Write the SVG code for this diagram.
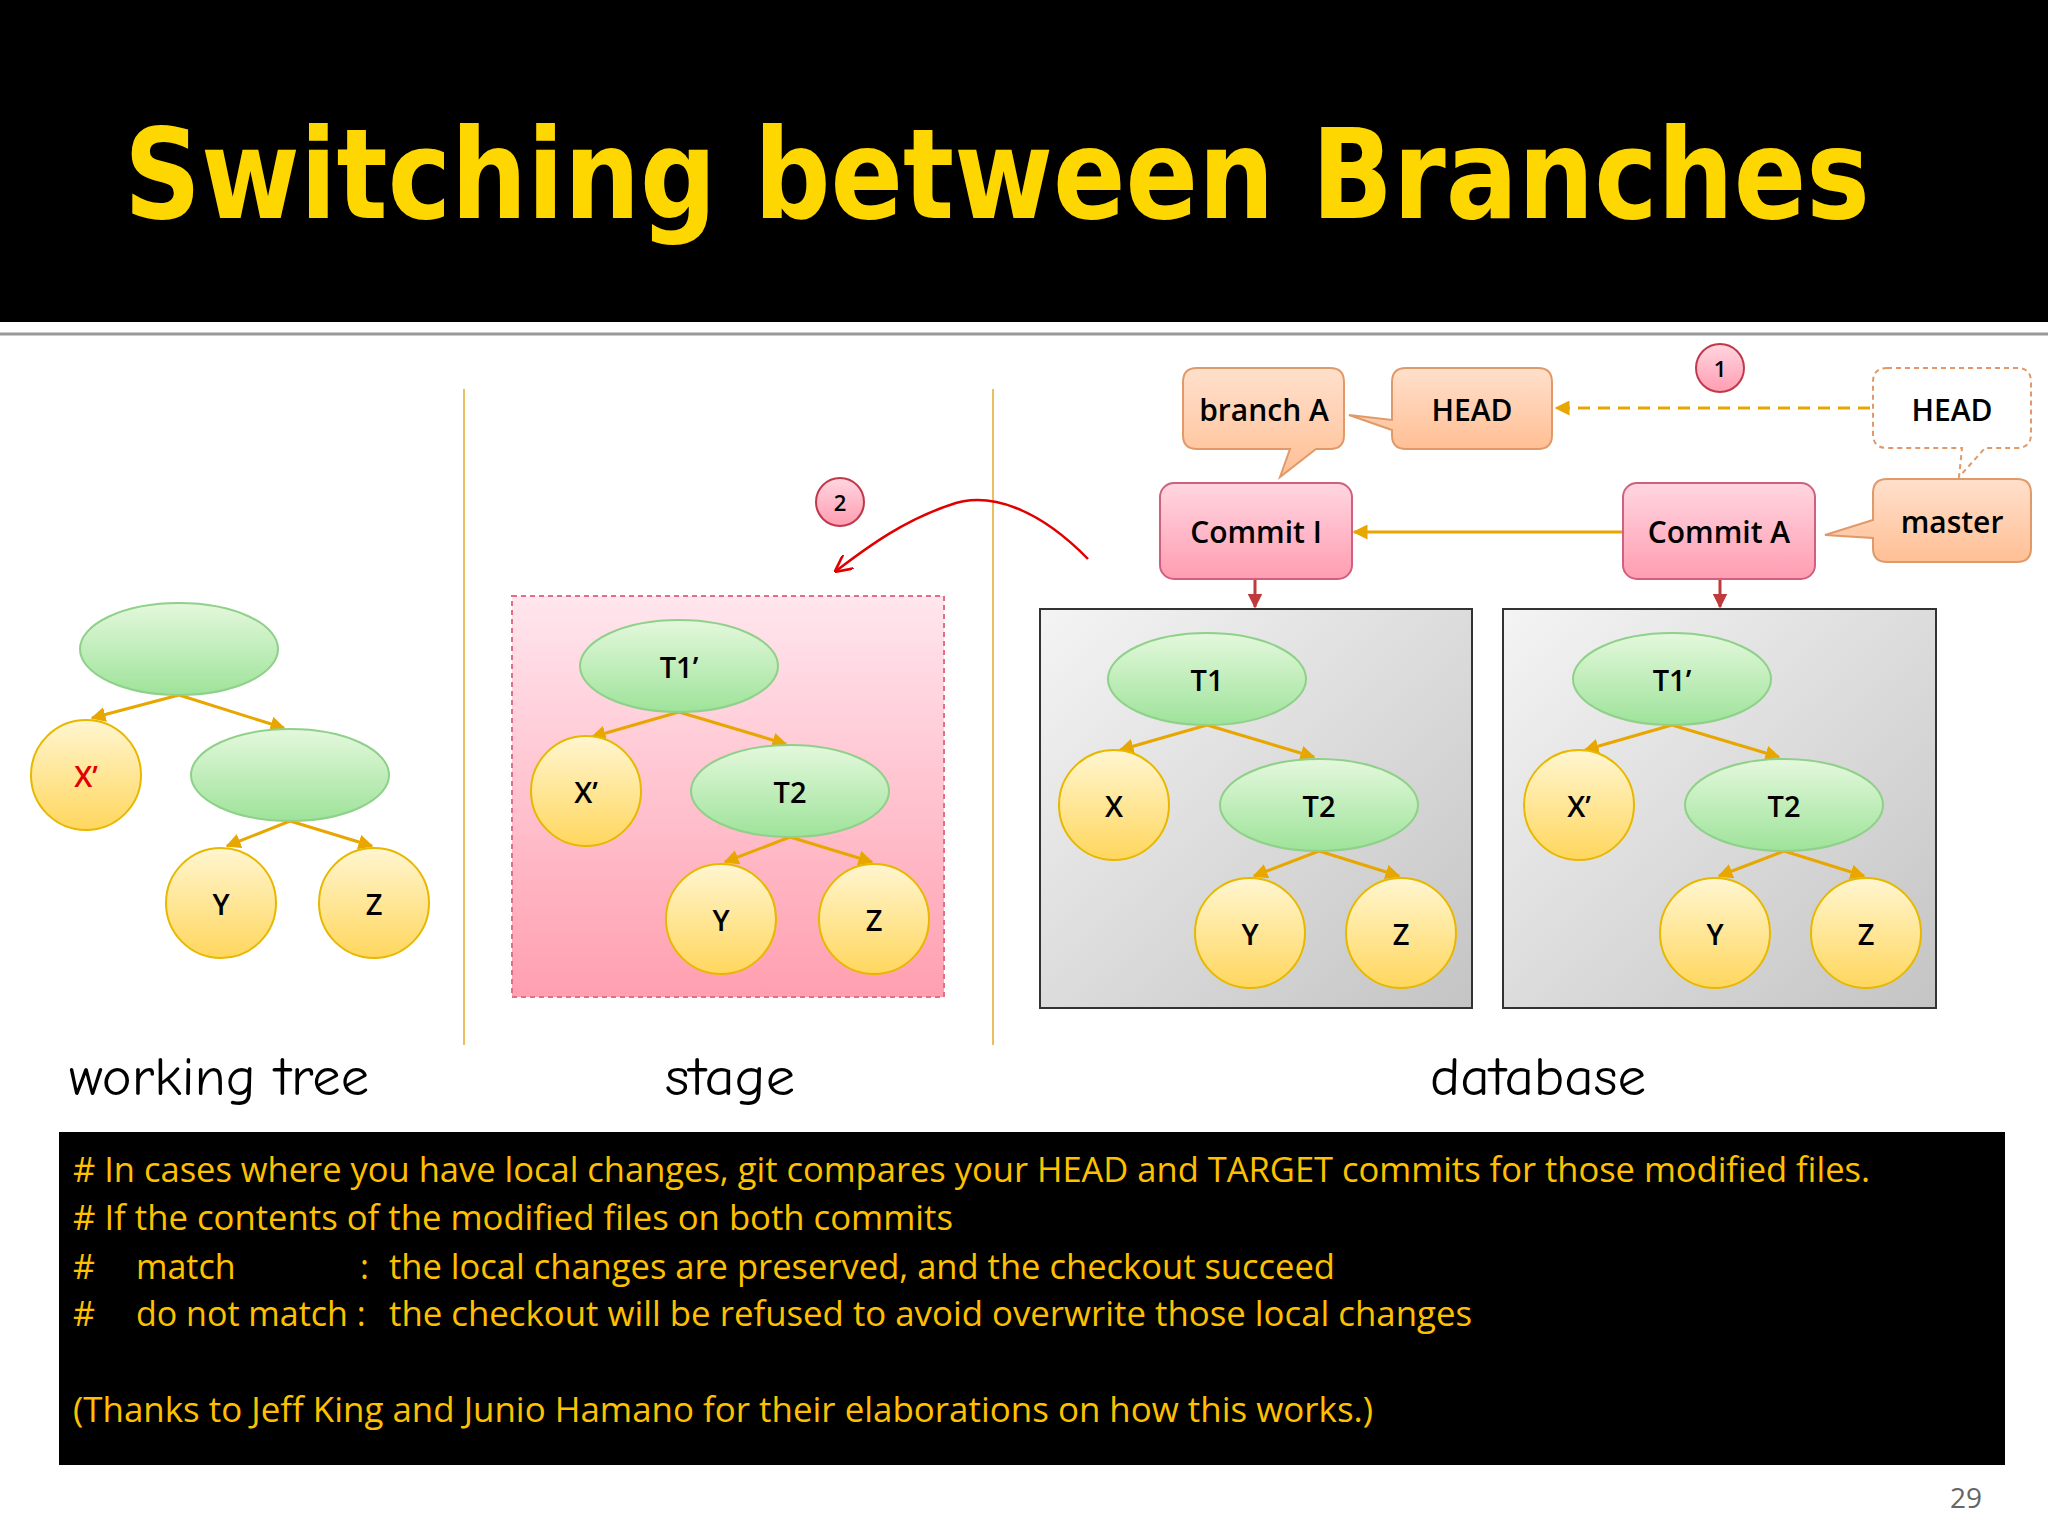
<svg xmlns="http://www.w3.org/2000/svg" width="2048" height="1536" viewBox="0 0 2048 1536">
<defs>
<linearGradient id="gE" x1="0" y1="0" x2="0" y2="1"><stop offset="0" stop-color="#e4f8dc"/><stop offset="1" stop-color="#9ee39a"/></linearGradient>
<linearGradient id="gC" x1="0" y1="0" x2="0" y2="1"><stop offset="0" stop-color="#fff6d0"/><stop offset="1" stop-color="#ffd75e"/></linearGradient>
<linearGradient id="gP" x1="0" y1="0" x2="0" y2="1"><stop offset="0" stop-color="#ffe6ee"/><stop offset="1" stop-color="#ff9fb0"/></linearGradient>
<linearGradient id="gR" x1="0" y1="0" x2="0" y2="1"><stop offset="0" stop-color="#ffd6e0"/><stop offset="1" stop-color="#ff9db2"/></linearGradient>
<linearGradient id="gO" x1="0" y1="0" x2="0" y2="1"><stop offset="0" stop-color="#ffe0cc"/><stop offset="1" stop-color="#ffbf94"/></linearGradient>
<linearGradient id="gG" x1="0" y1="0" x2="1" y2="1"><stop offset="0" stop-color="#f4f4f4"/><stop offset="1" stop-color="#c4c4c4"/></linearGradient>
<marker id="aO" viewBox="0 0 10 10" refX="9" refY="5" markerWidth="5" markerHeight="5" orient="auto"><path d="M0,0L10,5L0,10z" fill="#e8a600"/></marker>
<marker id="aR" viewBox="0 0 10 10" refX="9" refY="5" markerWidth="5" markerHeight="5" orient="auto"><path d="M0,0L10,5L0,10z" fill="#c0393b"/></marker>
<marker id="aRed" viewBox="0 0 10 10" refX="9" refY="5" markerWidth="7" markerHeight="7" orient="auto"><path d="M0,0L10,5L0,10" fill="none" stroke="#e00000" stroke-width="1.5"/></marker>
</defs>
<style>
.e{fill:url(#gE);stroke:#8fd08a;stroke-width:2}
.c{fill:url(#gC);stroke:#e8b800;stroke-width:2}
.t{font-family:"Open Sans","DejaVu Sans",sans-serif;font-size:29px;font-weight:600;text-anchor:middle;dominant-baseline:central;fill:#000}
.ed{stroke:#e8a600;stroke-width:3;fill:none;marker-end:url(#aO)}
.lbl{font-family:"Comic Neue","DejaVu Sans",sans-serif;font-size:54px;fill:#000}
.bt{font-family:"Open Sans","Liberation Sans",sans-serif;font-size:34px;fill:#ffc000}
.box{font-family:"Open Sans","DejaVu Sans",sans-serif;font-size:30px;font-weight:600;text-anchor:middle;dominant-baseline:central;fill:#000}
.num{fill:url(#gR);stroke:#c0394b;stroke-width:2}
</style>
<rect width="2048" height="1536" fill="#fff"/>
<rect width="2048" height="322" fill="#000"/>
<line x1="0" y1="334" x2="2048" y2="334" stroke="#999" stroke-width="3"/>
<text x="124" y="218" font-family="DejaVu Sans,sans-serif" font-weight="bold" font-size="124" fill="#ffd700" textLength="1746" lengthAdjust="spacingAndGlyphs">Switching between Branches</text>
<line x1="464" y1="389" x2="464" y2="1045" stroke="#e8c060" stroke-width="2"/>
<line x1="993" y1="389" x2="993" y2="1045" stroke="#e8c060" stroke-width="2"/>

<g id="working-tree">
<path class="ed" d="M179,695 L92,718"/><path class="ed" d="M179,695 L284,728"/>
<path class="ed" d="M290,821 L227,846"/><path class="ed" d="M290,821 L372,846"/>
<ellipse class="e" cx="179" cy="649" rx="99" ry="46"/>
<circle class="c" cx="86" cy="775" r="55"/><text class="t" x="86" y="775" style="fill:#e00000">X’</text>
<ellipse class="e" cx="290" cy="775" rx="99" ry="46"/>
<circle class="c" cx="221" cy="903" r="55"/><text class="t" x="221" y="903">Y</text>
<circle class="c" cx="374" cy="903" r="55"/><text class="t" x="374" y="903">Z</text>
</g>

<g id="stage">
<rect x="512" y="596" width="432" height="401" fill="url(#gP)" stroke="#e07088" stroke-width="2" stroke-dasharray="5,4"/>
<path class="ed" d="M679,712 L592,737"/><path class="ed" d="M679,712 L786,744"/>
<path class="ed" d="M790,837 L725,862"/><path class="ed" d="M790,837 L872,862"/>
<ellipse class="e" cx="679" cy="666" rx="99" ry="46"/><text class="t" x="679" y="666">T1’</text>
<circle class="c" cx="586" cy="791" r="55"/><text class="t" x="586" y="791">X’</text>
<ellipse class="e" cx="790" cy="791" rx="99" ry="46"/><text class="t" x="790" y="791">T2</text>
<circle class="c" cx="721" cy="919" r="55"/><text class="t" x="721" y="919">Y</text>
<circle class="c" cx="874" cy="919" r="55"/><text class="t" x="874" y="919">Z</text>
</g>

<g id="db-tree-I">
<rect x="1040" y="609" width="432" height="399" fill="url(#gG)" stroke="#333" stroke-width="2"/>
<path class="ed" d="M1207,725 L1120,750"/><path class="ed" d="M1207,725 L1314,757"/>
<path class="ed" d="M1319,851 L1254,876"/><path class="ed" d="M1319,851 L1399,876"/>
<ellipse class="e" cx="1207" cy="679" rx="99" ry="46"/><text class="t" x="1207" y="679">T1</text>
<circle class="c" cx="1114" cy="805" r="55"/><text class="t" x="1114" y="805">X</text>
<ellipse class="e" cx="1319" cy="805" rx="99" ry="46"/><text class="t" x="1319" y="805">T2</text>
<circle class="c" cx="1250" cy="933" r="55"/><text class="t" x="1250" y="933">Y</text>
<circle class="c" cx="1401" cy="933" r="55"/><text class="t" x="1401" y="933">Z</text>
</g>

<g id="db-tree-A">
<rect x="1503" y="609" width="433" height="399" fill="url(#gG)" stroke="#333" stroke-width="2"/>
<path class="ed" d="M1672,725 L1585,750"/><path class="ed" d="M1672,725 L1779,757"/>
<path class="ed" d="M1784,851 L1719,876"/><path class="ed" d="M1784,851 L1864,876"/>
<ellipse class="e" cx="1672" cy="679" rx="99" ry="46"/><text class="t" x="1672" y="679">T1’</text>
<circle class="c" cx="1579" cy="805" r="55"/><text class="t" x="1579" y="805">X’</text>
<ellipse class="e" cx="1784" cy="805" rx="99" ry="46"/><text class="t" x="1784" y="805">T2</text>
<circle class="c" cx="1715" cy="933" r="55"/><text class="t" x="1715" y="933">Y</text>
<circle class="c" cx="1866" cy="933" r="55"/><text class="t" x="1866" y="933">Z</text>
</g>

<g id="connectors">
<path d="M1623,532 L1354,532" stroke="#e8a600" stroke-width="3" fill="none" marker-end="url(#aO)"/>
<path d="M1870,408 L1556,408" stroke="#e8a600" stroke-width="3" stroke-dasharray="12,8" fill="none" marker-end="url(#aO)"/>
<path d="M1255,579 L1255,607" stroke="#c0393b" stroke-width="3" marker-end="url(#aR)"/>
<path d="M1720,579 L1720,607" stroke="#c0393b" stroke-width="3" marker-end="url(#aR)"/>
<path d="M1088,559 C1040,510 990,490 950,505 C905,520 870,545 836,571" stroke="#e00000" stroke-width="2.5" fill="none" marker-end="url(#aRed)"/>
</g>

<g id="commit-I"><rect x="1160" y="483" width="192" height="96" rx="14" fill="url(#gR)" stroke="#d06080" stroke-width="2"/><text class="box" x="1256" y="531">Commit I</text></g>
<g id="commit-A"><rect x="1623" y="483" width="192" height="96" rx="14" fill="url(#gR)" stroke="#d06080" stroke-width="2"/><text class="box" x="1719" y="531">Commit A</text></g>
<g id="branchA"><path d="M1197,368 H1330 Q1344,368 1344,382 V435 Q1344,449 1330,449 H1316 L1280,477 L1290,449 H1197 Q1183,449 1183,435 V382 Q1183,368 1197,368Z" fill="url(#gO)" stroke="#e09a6a" stroke-width="2"/><text class="box" x="1264" y="409">branch A</text></g>
<g id="HEAD1"><path d="M1406,368 H1538 Q1552,368 1552,382 V435 Q1552,449 1538,449 H1406 Q1392,449 1392,435 V430 L1349,415 L1392,420 V382 Q1392,368 1406,368Z" fill="url(#gO)" stroke="#e09a6a" stroke-width="2"/><text class="box" x="1472" y="409">HEAD</text></g>
<g id="HEAD2"><path d="M1887,368 H2017 Q2031,368 2031,382 V434 Q2031,448 2017,448 H1985 L1959,477 L1962,448 H1887 Q1873,448 1873,434 V382 Q1873,368 1887,368Z" fill="#fff" stroke="#e09a6a" stroke-width="2" stroke-dasharray="5,4"/><text class="box" x="1952" y="409">HEAD</text></g>
<g id="master"><path d="M1887,479 H2017 Q2031,479 2031,493 V548 Q2031,562 2017,562 H1887 Q1873,562 1873,548 V538 L1825,535 L1873,520 V493 Q1873,479 1887,479Z" fill="url(#gO)" stroke="#e09a6a" stroke-width="2"/><text class="box" x="1952" y="521">master</text></g>
<g id="n1"><circle class="num" cx="1720" cy="368" r="24"/><text class="t" x="1720" y="368" style="font-size:22px">1</text></g>
<g id="n2"><circle class="num" cx="840" cy="502" r="24"/><text class="t" x="840" y="502" style="font-size:22px">2</text></g>

<text class="lbl" x="69" y="1095" textLength="300" lengthAdjust="spacingAndGlyphs">working tree</text>
<text class="lbl" x="665" y="1095" textLength="130" lengthAdjust="spacingAndGlyphs">stage</text>
<text class="lbl" x="1430" y="1095" textLength="216" lengthAdjust="spacingAndGlyphs">database</text>

<rect x="59" y="1132" width="1946" height="333" fill="#000"/>
<text class="bt" x="73" y="1182" textLength="1797" lengthAdjust="spacingAndGlyphs"># In cases where you have local changes, git compares your HEAD and TARGET commits for those modified files.</text>
<text class="bt" x="73" y="1230" textLength="880" lengthAdjust="spacingAndGlyphs"># If the contents of the modified files on both commits</text>
<text class="bt" x="73" y="1279">#</text><text class="bt" x="136" y="1279">match</text><text class="bt" x="360" y="1279">:</text><text class="bt" x="389" y="1279" textLength="946" lengthAdjust="spacingAndGlyphs">the local changes are preserved, and the checkout succeed</text>
<text class="bt" x="73" y="1326">#</text><text class="bt" x="136" y="1326">do not match :</text><text class="bt" x="389" y="1326" textLength="1083" lengthAdjust="spacingAndGlyphs">the checkout will be refused to avoid overwrite those local changes</text>
<text class="bt" x="73" y="1422" textLength="1300" lengthAdjust="spacingAndGlyphs">(Thanks to Jeff King and Junio Hamano for their elaborations on how this works.)</text>
<text x="1966" y="1508" font-family="Open Sans,sans-serif" font-size="28" fill="#666" text-anchor="middle">29</text>
</svg>
